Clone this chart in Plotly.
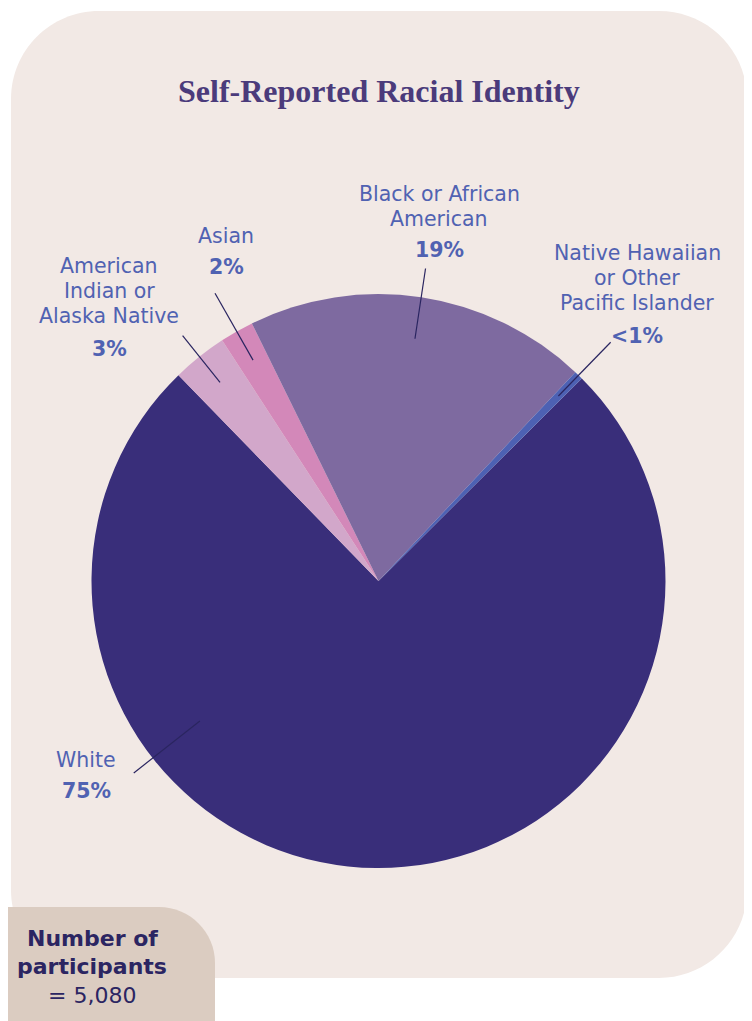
import math
import plotly.graph_objects as go

# ---------------- data ----------------
categories = ["White", "American Indian or Alaska Native", "Asian",
              "Black or African American", "Native Hawaiian or Other Pacific Islander"]
label_lines = [["White"], ["American", "Indian or", "Alaska Native"], ["Asian"],
               ["Black or African", "American"], ["Native Hawaiian", "or Other", "Pacific Islander"]]
shares = [75.2, 3.1, 1.9, 19.3, 0.5]
pct_labels = ["75%", "3%", "2%", "19%", "<1%"]
participants = "5,080"
title_text = "Self-Reported Racial Identity"
badge_lines = ["<b>Number of</b>", "<b>participants</b>", f"= {participants}"]

# ---------------- style ----------------
colors = ["#392e7a", "#d2a7ca", "#d388b9", "#7e6aa0", "#4d61b3"]
OFF = 8                      # page body margin of the viewer
W, H = 752 - OFF, 1021 - OFF
CX, CY, R = 378.5, 581, 287
START = 45.1
anchor_frac = [0.69, 0.5, 0.5, 0.5, 0.5]
r_in = [227, 254, 254, 245, 258]
r_out = [311, 314, 331, 316, 333]
label_x = [86, 109, 226, 439, 637]
label_first_y = [760, 266, 236, 194, 253]
pct_y = [791, 349, 267, 250, 336]
LINE_STEP = 25
LABEL_COLOR = "#5062b2"
LINE_COLOR = "#2a2560"
FONT = "DejaVu Sans"
LABEL_SIZE = 20.5


def px(x):
    return (x - OFF) / W


def py(y):
    return 1 - (y - OFF) / H


def rrect(x0, y0, x1, y1, r):
    k = 0.5523 * r
    pts = [
        f"M{px(x0 + r)},{py(y0)}", f"L{px(x1 - r)},{py(y0)}",
        f"C{px(x1 - r + k)},{py(y0)} {px(x1)},{py(y0 + r - k)} {px(x1)},{py(y0 + r)}",
        f"L{px(x1)},{py(y1 - r)}",
        f"C{px(x1)},{py(y1 - r + k)} {px(x1 - r + k)},{py(y1)} {px(x1 - r)},{py(y1)}",
        f"L{px(x0 + r)},{py(y1)}",
        f"C{px(x0 + r - k)},{py(y1)} {px(x0)},{py(y1 - r + k)} {px(x0)},{py(y1 - r)}",
        f"L{px(x0)},{py(y0 + r)}",
        f"C{px(x0)},{py(y0 + r - k)} {px(x0 + r - k)},{py(y0)} {px(x0 + r)},{py(y0)}",
        "Z",
    ]
    return " ".join(pts)


def text_ann(text, x, y, size, color, family=FONT):
    return dict(text=text, x=px(x), y=py(y), xref="paper", yref="paper",
                xanchor="center", yanchor="middle", showarrow=False, align="center",
                font=dict(family=family, size=size, color=color))


fig = go.Figure()
fig.add_trace(go.Pie(
    labels=categories, values=shares, sort=False, direction="clockwise",
    rotation=START, textinfo="none", hoverinfo="label+percent",
    marker=dict(colors=colors, line=dict(width=0)),
    domain=dict(x=[px(CX - R), px(CX + R)], y=[py(CY + R), py(CY - R)]),
    showlegend=False,
))

shapes = [
    dict(type="path", xref="paper", yref="paper", path=rrect(11, 11, 747, 978, 88),
         fillcolor="#f2e9e5", line=dict(width=0), layer="below"),
    dict(type="path", xref="paper", yref="paper", path=rrect(-80, 907, 215, 1080, 56),
         fillcolor="#dbccc1", line=dict(width=0), layer="above"),
]

annotations = []
total = sum(shares)
cum = 0.0
for i, v in enumerate(shares):
    a0 = START + cum / total * 360
    a1 = START + (cum + v) / total * 360
    cum += v
    ang = math.radians(a0 + anchor_frac[i] * (a1 - a0))
    xi, yi = CX + r_in[i] * math.sin(ang), CY - r_in[i] * math.cos(ang)
    xo, yo = CX + r_out[i] * math.sin(ang), CY - r_out[i] * math.cos(ang)
    shapes.append(dict(type="line", xref="paper", yref="paper",
                       x0=px(xi), y0=py(yi), x1=px(xo), y1=py(yo),
                       line=dict(color=LINE_COLOR, width=1.2)))
    for j, line in enumerate(label_lines[i]):
        annotations.append(text_ann(line, label_x[i], label_first_y[i] + j * LINE_STEP,
                                    LABEL_SIZE, LABEL_COLOR))
    annotations.append(text_ann(f"<b>{pct_labels[i]}</b>", label_x[i], pct_y[i],
                                LABEL_SIZE, LABEL_COLOR))

annotations.append(text_ann(f"<b>{title_text}</b>", CX, 91, 32, "#4b3b7b",
                            family="Liberation Serif"))
for j, line in enumerate(badge_lines):
    annotations.append(text_ann(line, 92, 938 + j * 28.5, 22, "#2b2562"))

fig.update_layout(
    width=W, height=H, margin=dict(l=0, r=0, t=0, b=0),
    paper_bgcolor="#ffffff", plot_bgcolor="#ffffff",
    shapes=shapes, annotations=annotations,
)
fig.write_html("out.html")
